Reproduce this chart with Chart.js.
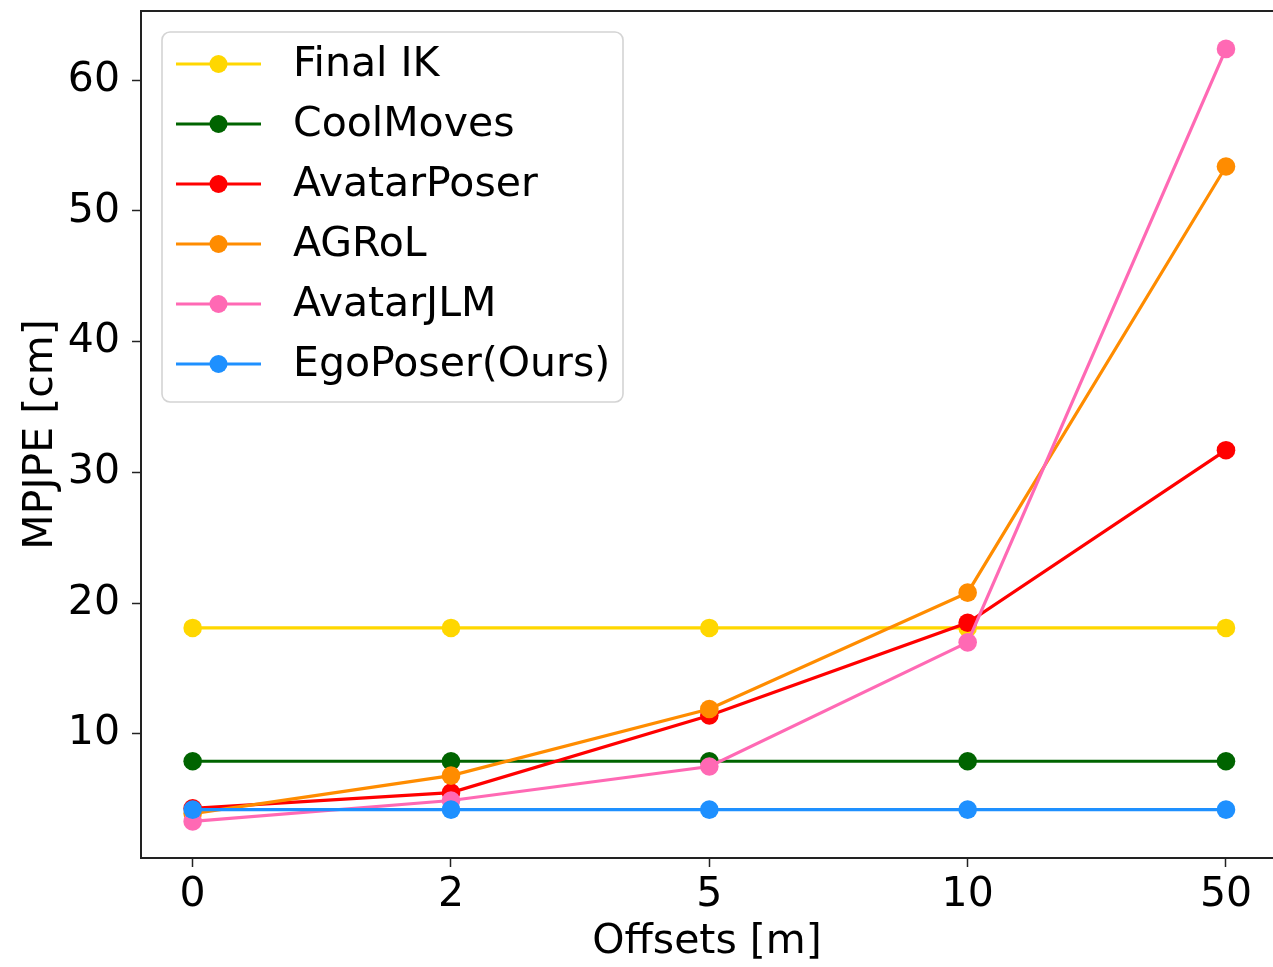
<!DOCTYPE html>
<html>
<head>
<meta charset="utf-8">
<script src="https://cdn.jsdelivr.net/npm/chart.js@4.4.1/dist/chart.umd.min.js"></script>
<style>
  html, body { margin: 0; padding: 0; background: #fff; overflow: hidden; }
  #c { position: absolute; left: 0; top: 0; }
</style>
</head>
<body>
<canvas id="c" width="1273" height="967" style="width:1273px;height:967px"></canvas>
<script>
// ---- data ----
const categories = ['0', '2', '5', '10', '50'];
const seriesNames = ['Final IK', 'CoolMoves', 'AvatarPoser', 'AGRoL', 'AvatarJLM', 'EgoPoser(Ours)'];
const finalIK    = [18.1, 18.1, 18.1, 18.1, 18.1];
const coolMoves  = [7.9, 7.9, 7.9, 7.9, 7.9];
const avatarPoser = [4.3, 5.5, 11.4, 18.5, 31.7];
const agrol      = [3.9, 6.8, 11.9, 20.8, 53.4];
const avatarJLM  = [3.3, 4.9, 7.5, 17.0, 62.4];
const egoPoser   = [4.2, 4.2, 4.2, 4.2, 4.2];
const yTickValues = [10, 20, 30, 40, 50, 60];
const xTitle = 'Offsets [m]';
const yTitle = 'MPJPE [cm]';

const seriesValues = [finalIK, coolMoves, avatarPoser, agrol, avatarJLM, egoPoser];
const seriesColors = ['#FFD700', '#006400', '#FF0000', '#FF8C00', '#FF69B4', '#1E90FF'];

const FONT = '"DejaVu Sans", "Liberation Sans", sans-serif';

const datasets = seriesNames.map((name, i) => ({
  label: name,
  data: seriesValues[i].map((v, j) => ({ x: j, y: v })),
  borderColor: seriesColors[i],
  backgroundColor: seriesColors[i],
  pointBackgroundColor: seriesColors[i],
  pointBorderWidth: 0,
  pointRadius: 9.3,
  pointHoverRadius: 9.3,
  borderWidth: 3.2,
  tension: 0,
  clip: 12,
  order: seriesNames.length - 1 - i
}));

const frameTop = {
  id: 'frameTop',
  afterDraw(chart) {
    const { ctx, chartArea } = chart;
    ctx.save();
    ctx.strokeStyle = '#222';
    ctx.lineWidth = 2;
    ctx.beginPath();
    ctx.moveTo(chartArea.left - 1, chartArea.top);
    ctx.lineTo(chartArea.right, chartArea.top);
    ctx.stroke();
    ctx.restore();
  }
};

const innerLegend = {
  id: 'innerLegend',
  afterDraw(chart) {
    const { ctx, chartArea } = chart;
    const x0 = chartArea.left + 21, y0 = chartArea.top + 21;
    const w = 461, h = 370, r = 8;
    ctx.save();
    ctx.beginPath();
    ctx.moveTo(x0 + r, y0);
    ctx.lineTo(x0 + w - r, y0);
    ctx.arcTo(x0 + w, y0, x0 + w, y0 + r, r);
    ctx.lineTo(x0 + w, y0 + h - r);
    ctx.arcTo(x0 + w, y0 + h, x0 + w - r, y0 + h, r);
    ctx.lineTo(x0 + r, y0 + h);
    ctx.arcTo(x0, y0 + h, x0, y0 + h - r, r);
    ctx.lineTo(x0, y0 + r);
    ctx.arcTo(x0, y0, x0 + r, y0, r);
    ctx.closePath();
    ctx.fillStyle = 'rgba(255,255,255,0.8)';
    ctx.fill();
    ctx.strokeStyle = '#d4d4d4';
    ctx.lineWidth = 1.6;
    ctx.stroke();
    chart.data.datasets.forEach((ds, i) => {
      const cy = y0 + 32 + i * 60;
      ctx.strokeStyle = ds.borderColor;
      ctx.lineWidth = 3.2;
      ctx.beginPath();
      ctx.moveTo(x0 + 14, cy);
      ctx.lineTo(x0 + 99, cy);
      ctx.stroke();
      ctx.fillStyle = ds.borderColor;
      ctx.beginPath();
      ctx.arc(x0 + 56.5, cy, 9, 0, Math.PI * 2);
      ctx.fill();
      ctx.fillStyle = '#000';
      ctx.font = '41px ' + FONT;
      ctx.textAlign = 'left';
      ctx.textBaseline = 'middle';
      ctx.fillText(ds.label, x0 + 131, cy + 1);
    });
    ctx.restore();
  }
};

function zeroPad(scale) {
  scale.paddingTop = 0; scale.paddingBottom = 0;
  scale.paddingLeft = 0; scale.paddingRight = 0;
}

new Chart(document.getElementById('c'), {
  type: 'line',
  data: { datasets },
  plugins: [frameTop, innerLegend],
  options: {
    responsive: false,
    devicePixelRatio: 1,
    animation: false,
    layout: { autoPadding: false, padding: { left: 0, top: 11, right: 0, bottom: 0 } },
    plugins: { legend: { display: false }, tooltip: { enabled: false } },
    scales: {
      x: {
        type: 'linear',
        min: -0.2,
        max: 4.182,
        afterBuildTicks(scale) { scale.ticks = categories.map((c, j) => ({ value: j })); },
        afterFit(scale) { scale.height = 109; zeroPad(scale); },
        ticks: {
          autoSkip: false,
          maxRotation: 0,
          padding: 4,
          color: '#000',
          font: { family: FONT, size: 41 },
          callback: (v) => categories[v]
        },
        grid: { drawOnChartArea: false, drawTicks: true, tickLength: 9, tickWidth: 1.5, tickColor: '#222' },
        border: { display: true, color: '#222', width: 2 },
        title: { display: true, text: xTitle, color: '#000', font: { family: FONT, size: 41 }, padding: { top: 0, bottom: 0 } }
      },
      y: {
        type: 'linear',
        min: 0.5,
        max: 65.3,
        afterBuildTicks(scale) { scale.ticks = yTickValues.map(v => ({ value: v })); },
        afterFit(scale) { scale.width = 141; zeroPad(scale); },
        ticks: {
          padding: 12,
          color: '#000',
          font: { family: FONT, size: 41 },
          callback: (v) => String(v)
        },
        grid: { drawOnChartArea: false, drawTicks: true, tickLength: 9, tickWidth: 1.5, tickColor: '#222' },
        border: { display: true, color: '#222', width: 2 },
        title: { display: true, text: yTitle, color: '#000', font: { family: FONT, size: 41 }, padding: { top: 17, bottom: 0 } }
      }
    }
  }
});
</script>
</body>
</html>
